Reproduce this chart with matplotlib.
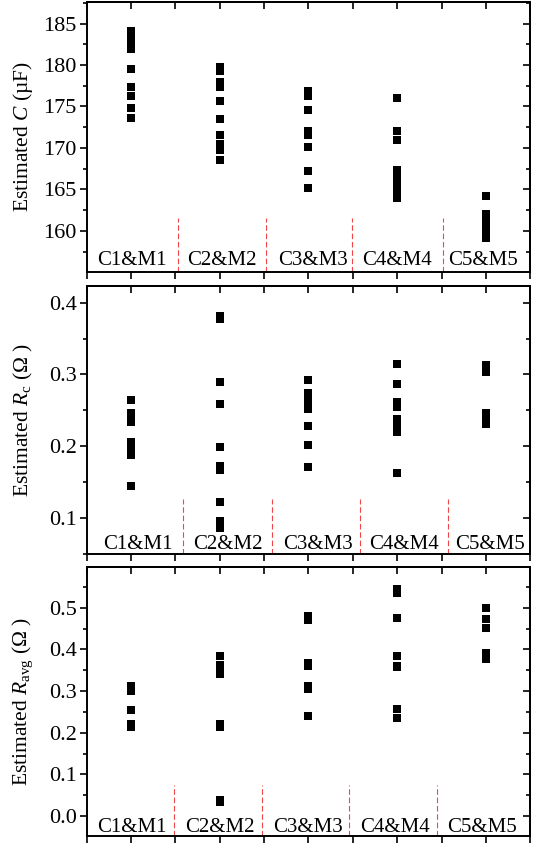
import matplotlib
matplotlib.use('Agg')
import matplotlib.pyplot as plt
from matplotlib.ticker import MultipleLocator, NullFormatter

plt.rcParams['font.family'] = ['Liberation Serif', 'DejaVu Serif']
plt.rcParams['mathtext.fontset'] = 'custom'
plt.rcParams['mathtext.rm'] = 'Liberation Serif'
plt.rcParams['mathtext.it'] = 'Liberation Serif:italic'

categories = ['C1&M1', 'C2&M2', 'C3&M3', 'C4&M4', 'C5&M5']

C_values = [
    [184.1, 183.5, 182.9, 181.9, 179.5, 177.4, 176.3, 174.8, 173.6],
    [179.7, 179.3, 178.0, 177.4, 175.6, 173.5, 171.5, 170.5, 169.8, 168.6],
    [176.9, 176.3, 174.6, 172.1, 171.6, 170.1, 167.2, 165.2],
    [176.0, 172.0, 170.9, 167.4, 166.5, 165.6, 164.8, 164.0],
    [164.2, 162.0, 161.5, 161.1, 160.1, 159.5, 159.1],
]

Rc_values = [
    [0.264, 0.246, 0.240, 0.234, 0.205, 0.197, 0.188, 0.144],
    [0.382, 0.377, 0.289, 0.259, 0.199, 0.172, 0.166, 0.122, 0.096, 0.086],
    [0.292, 0.274, 0.266, 0.259, 0.252, 0.228, 0.201, 0.171],
    [0.314, 0.287, 0.261, 0.255, 0.238, 0.226, 0.220, 0.162],
    [0.313, 0.303, 0.246, 0.241, 0.236, 0.231],
]

Ravg_values = [
    [0.311, 0.306, 0.300, 0.254, 0.221, 0.214],
    [0.383, 0.363, 0.346, 0.340, 0.220, 0.214, 0.039, 0.034],
    [0.480, 0.471, 0.368, 0.359, 0.313, 0.304, 0.239],
    [0.546, 0.535, 0.476, 0.383, 0.361, 0.357, 0.258, 0.235],
    [0.500, 0.474, 0.452, 0.392, 0.385, 0.377],
]

ylabels = ['Estimated $C$ (\u00b5F)',
           'Estimated $R_\\mathrm{c}$ (\u03a9 )',
           'Estimated $R_\\mathrm{avg}$ (\u03a9 )']

fig = plt.figure(figsize=(5.39, 8.43), dpi=100)

panels = [
    dict(vals=C_values, ylim=(155.05, 187.6), major=5, minor=2.5,
         rect=[0.1605, 0.6774, 0.8237, 0.3203],
         seps=[1.53, 2.52, 3.49, 4.51], sep_top=0.199,
         lab_x=[1.012, 2.026, 3.051, 3.997, 4.966], lab_y=0.044,
         fmt='{:.0f}'),
    dict(vals=Rc_values, ylim=(0.0494, 0.424), major=0.1, minor=0.05,
         rect=[0.1605, 0.3428, 0.8237, 0.3185],
         seps=[1.59, 2.59, 3.575, 4.57], sep_top=0.205,
         lab_x=[1.074, 2.088, 3.107, 4.075, 5.044], lab_y=0.034,
         fmt='{:.1f}'),
    dict(vals=Ravg_values, ylim=(-0.048, 0.5976), major=0.1, minor=0.05,
         rect=[0.1605, 0.0083, 0.8237, 0.3191],
         seps=[1.485, 2.475, 3.46, 4.45], sep_top=0.19,
         lab_x=[1.012, 2.003, 2.989, 3.974, 4.954], lab_y=0.030,
         fmt='{:.1f}'),
]

for p, ylabel in zip(panels, ylabels):
    ax = fig.add_axes(p['rect'])
    for i, vals in enumerate(p['vals']):
        ax.plot([i + 1] * len(vals), vals, linestyle='none', marker='s',
                markersize=5.4, color='black', markeredgewidth=0)
    for s in p['seps']:
        ax.axvline(s, ymin=0, ymax=p['sep_top'], color='#f04848',
                   linewidth=0.8, linestyle=(0, (5, 2.5)))
    for lx, name in zip(p['lab_x'], categories):
        ax.text(lx, p['lab_y'], name, transform=ax.get_xaxis_transform(),
                ha='center', va='center', fontsize=15)
    ax.set_xlim(0.5, 5.5)
    ax.set_ylim(*p['ylim'])
    ax.xaxis.set_major_locator(MultipleLocator(0.5))
    ax.xaxis.set_major_formatter(NullFormatter())
    ax.yaxis.set_major_locator(MultipleLocator(p['major']))
    ax.yaxis.set_minor_locator(MultipleLocator(p['minor']))
    fmt = p['fmt']
    ax.yaxis.set_major_formatter(plt.FuncFormatter(lambda v, pos, f=fmt: f.format(v)))
    ax.tick_params(axis='both', which='major', direction='out', length=5,
                   width=1.2, labelsize=16, pad=2)
    ax.tick_params(axis='both', which='minor', direction='out', length=3,
                   width=1.2)
    for sp in ax.spines.values():
        sp.set_linewidth(1.4)
    secy = ax.secondary_yaxis('right')
    secy.yaxis.set_major_locator(MultipleLocator(p['major']))
    secy.yaxis.set_minor_locator(MultipleLocator(p['minor']))
    secy.tick_params(which='major', direction='in', length=5, width=1.2,
                     labelright=False)
    secy.tick_params(which='minor', direction='in', length=3, width=1.2)
    secy.spines['right'].set_linewidth(1.4)
    secx = ax.secondary_xaxis('top')
    secx.xaxis.set_major_locator(MultipleLocator(0.5))
    secx.tick_params(which='major', direction='in', length=5, width=1.2,
                     labeltop=False)
    secx.spines['top'].set_linewidth(1.4)
    ax.set_ylabel(ylabel, fontsize=15.5)
    ax.yaxis.set_label_coords(-0.115, 0.5)

fig.savefig('out.png', dpi=100)
